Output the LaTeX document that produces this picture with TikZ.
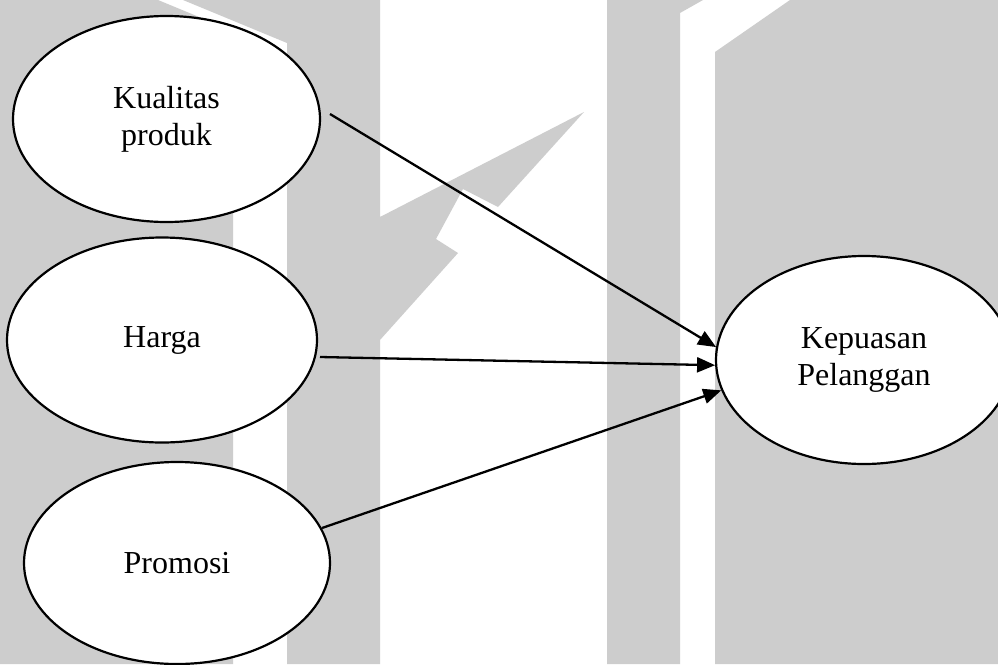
\documentclass[tikz,border=0pt]{standalone}
\usepackage{fontspec}
\setmainfont{Liberation Serif}
\usetikzlibrary{shapes.geometric,arrows.meta}
\definecolor{wmgray}{RGB}{205,205,205}
\tikzset{
  concept/.style={ellipse,draw=black,line width=2.2pt,fill=white,inner sep=0pt,
    align=center,font=\fontsize{32}{37}\selectfont},
  link/.style={line width=2.3pt,-{Triangle[length=18pt,width=15pt]}},
  wm/.style={fill=wmgray,draw=none}
}
\begin{document}
\begin{tikzpicture}[x=1pt,y=-1pt]
\useasboundingbox (0,0) rectangle (998,664);
\clip (0,0) rectangle (998,664);
\fill[white] (0,0) rectangle (998,664);
% watermark shapes
\fill[wm] (0,0) -- (158,0) -- (233,31) -- (233,664) -- (0,664) -- cycle;
\fill[wm] (183,0) -- (380,0) -- (380,217) -- (584,112) -- (498,207) -- (463,189)
  -- (436,239) -- (458,253) -- (380,340) -- (380,664) -- (287,664) -- (287,43) -- cycle;
\fill[wm] (607,0) -- (703,0) -- (680,13) -- (680,664) -- (607,664) -- cycle;
\fill[wm] (715,52) -- (790,0) -- (998,0) -- (998,664) -- (715,664) -- cycle;
% concepts
\node[concept,minimum width=307pt,minimum height=206pt] (kp) at (166.5,119) {Kualitas\\produk};
\node[concept,minimum width=310pt,minimum height=205pt] (hg) at (162,340) {Harga};
\node[concept,minimum width=306pt,minimum height=202pt] (pr) at (177,563) {Promosi};
\node[concept,minimum width=296pt,minimum height=208pt] (ks) at (864,360) {Kepuasan\\Pelanggan};
% free starts of connectors
\coordinate (s1) at (330,114);
\coordinate (s2) at (320,357);
\coordinate (s3) at (322,528);
\draw[link] (s1) -- (ks.175);
\draw[link] (s2) -- (ks.182.7);
\draw[link] (s3) -- (ks.192);
\end{tikzpicture}
\end{document}
